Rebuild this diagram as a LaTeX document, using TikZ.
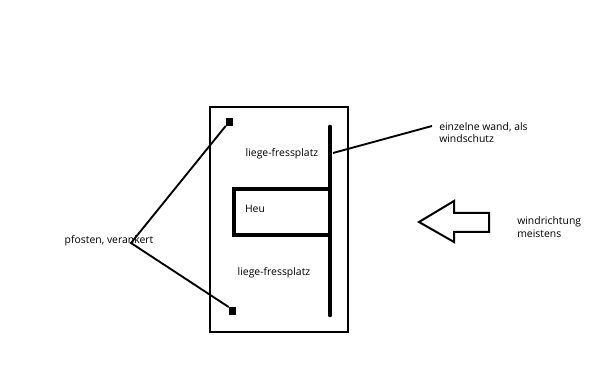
\documentclass[tikz,border=0pt]{standalone}
\usepackage{fontspec}
\setmainfont{Open Sans}
\usetikzlibrary{positioning}

\begin{document}
\begin{tikzpicture}[x=0.75pt,y=-0.75pt,
  lbl/.style={font=\fontsize{7.8}{9.4}\selectfont,inner sep=0pt},
  post/.style={draw,fill=black,minimum width=4.5pt,minimum height=5.5pt,inner sep=0pt},
  leader/.style={line width=1.4pt}]
  \useasboundingbox (0,0) rectangle (600,370);
  % stall
  \draw[line width=1.5pt] (210,107) rectangle (348,332);
  \node[post] (post1) at (229,122) {};
  \node[post] (post2) at (232,311) {};
  \coordinate (wtop) at (330,127);
  \coordinate (wbot) at (330,315);
  \draw[line width=3.5pt,line cap=round] (wtop) -- (wbot);
  \draw[line width=2.6pt] (330,189) -| (234,235) -- (330,235);
  \node[lbl] (heu) at (255,209) {Heu};
  \node[lbl] (lf1) at (282,154) {liege-fressplatz};
  \node[lbl] (lf2) at (274,273) {liege-fressplatz};
  % labels
  \node[lbl] (pfosten) at (109,241) {pfosten, verankert};
  \coordinate (pf) at (131,243);
  \draw[leader] (post1.south west) -- (pf) -- (post2.north west);
  \node[lbl,align=left,anchor=north west] (wand) at (439,122) {einzelne wand, als\\windschutz};
  \coordinate (wpt) at (333,153);
  \draw[leader] (wpt) -- (432,126);
  % wind
  \draw[line width=1.5pt] (419,222) -- (454,201) -- (454,213) -- (489,213)
    -- (489,232) -- (454,232) -- (454,242) -- cycle;
  \node[lbl,align=left,anchor=west] (wind) at (517,227) {windrichtung\\meistens};
\end{tikzpicture}
\end{document}
